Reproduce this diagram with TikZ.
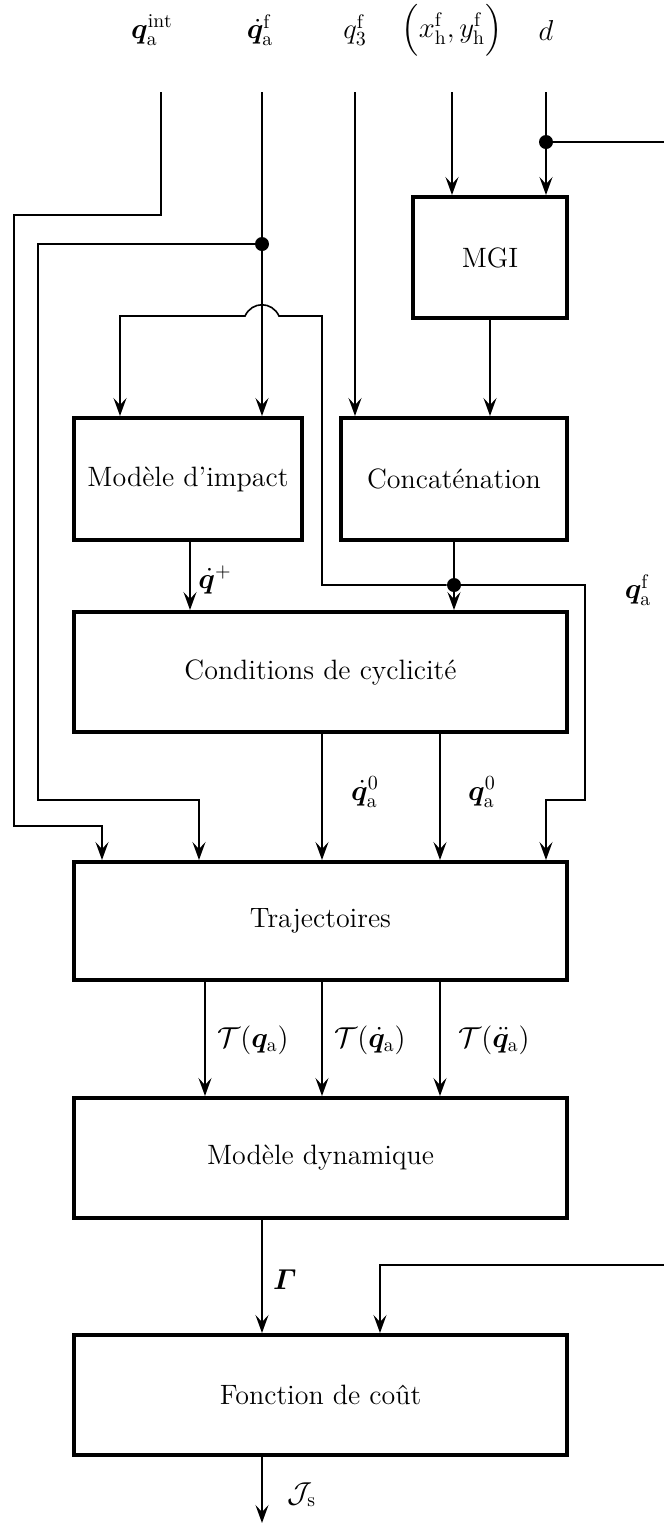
\documentclass[tikz,border=0pt]{standalone}
\usepackage{amsmath}
\usepackage{bm}
\usepackage{fontspec}
\usetikzlibrary{arrows.meta}
\tikzset{
  every node/.style={font=\fontsize{14}{17}\selectfont},
  blk/.style={draw, line width=2pt, inner sep=0pt, align=center},
  conn/.style={line width=0.8pt},
  arr/.style={conn, -{Stealth[length=9pt, width=6.5pt, inset=3.5pt]}},
  junc/.style={circle, fill=black, inner sep=0pt, minimum size=7pt},
  lbl/.style={inner sep=0pt}
}
\begin{document}
\begin{tikzpicture}[x=0.5pt, y=-0.5pt]
\useasboundingbox (0,0) rectangle (664,1523);

% top labels
\node[lbl] (lA) at (152,30) {$\bm{q}_{\mathrm{a}}^{\mathrm{int}}$};
\node[lbl] (lB) at (260,30) {$\dot{\bm{q}}_{\mathrm{a}}^{\mathrm{f}}$};
\node[lbl] (lC) at (355,30) {$q_3^{\mathrm{f}}$};
\node[lbl] (lD) at (452,30) {$\Bigl(x_{\mathrm{h}}^{\mathrm{f}}, y_{\mathrm{h}}^{\mathrm{f}}\Bigr)$};
\node[lbl] (lE) at (546,30) {$d$};

% line starts
\coordinate (inA) at (161,92);
\coordinate (inB) at (262,92);
\coordinate (inC) at (355,92);
\coordinate (inD) at (452,92);
\coordinate (inE) at (546,92);

% boxes
\node[blk, minimum width=77pt, minimum height=60.5pt] (mgi) at (490,257.5) {MGI};
\node[blk, minimum width=114pt, minimum height=61pt] (impact) at (188,479) {Modèle d'impact};
\node[blk, minimum width=113pt, minimum height=61pt] (concat) at (454,479) {Concaténation};
\node[blk, minimum width=246.5pt, minimum height=60pt] (cond) at (320.5,672) {Conditions de cyclicité};
\node[blk, minimum width=246.5pt, minimum height=59pt] (traj) at (320.5,921) {Trajectoires};
\node[blk, minimum width=246.5pt, minimum height=60pt] (dyn) at (320.5,1158) {Modèle dynamique};
\node[blk, minimum width=246.5pt, minimum height=60pt] (cost) at (320.5,1395) {Fonction de coût};

% junctions
\node[junc] (jB) at (262,244) {};
\node[junc] (jE) at (546,142) {};
\node[junc] (jC) at (454,585) {};

% column helpers
\coordinate (x102) at (102,0);
\coordinate (x199) at (199,0);
\coordinate (x120) at (120,0);
\coordinate (x190) at (190,0);
\coordinate (x205) at (205,0);
\coordinate (x262) at (262,0);
\coordinate (x322) at (322,0);
\coordinate (x380) at (380,0);
\coordinate (x440) at (440,0);
\coordinate (x546) at (546,0);
\coordinate (outE) at (664,142);
\coordinate (inF) at (664,1265);
\coordinate (outJ) at (262,1523);

% q_a^int
\draw[arr] (inA) -- (161,215) -- (14,215) -- (14,826) -- (102,826) -- (traj.north -| x102);
% qdot_a^f
\draw[conn] (inB) -- (jB);
\draw[arr] (jB) -- (impact.north -| jB);
\draw[arr] (jB) -- (38,244) -- (38,800) -- (199,800) -- (traj.north -| x199);
% q3
\draw[arr] (inC) -- (concat.north -| inC);
% xh yh
\draw[arr] (inD) -- (mgi.north -| inD);
% d
\draw[conn] (inE) -- (jE);
\draw[arr] (jE) -- (mgi.north -| jE);
\draw[conn] (jE) -- (outE);
% MGI -> concat
\draw[arr] (mgi.south) -- (concat.north -| mgi.south);
% concat -> junction
\draw[conn] (concat.south) -- (jC);
\draw[arr] (jC) -- (cond.north -| jC);
\draw[arr] (jC) -- (585,585) -- (585,800) -- (546,800) -- (traj.north -| x546);
\draw[arr] (jC) -- (322,585) -- (322,316) -- (279,316)
  .. controls (272,301) and (252,301) .. (245,316) -- (120,316) -- (impact.north -| x120);
% impact -> cond
\draw[arr] (impact.south -| x190) -- (cond.north -| x190);
% cond -> traj
\draw[arr] (cond.south -| x322) -- (traj.north -| x322);
\draw[arr] (cond.south -| x440) -- (traj.north -| x440);
% traj -> dyn
\draw[arr] (traj.south -| x205) -- (dyn.north -| x205);
\draw[arr] (traj.south -| x322) -- (dyn.north -| x322);
\draw[arr] (traj.south -| x440) -- (dyn.north -| x440);
% dyn -> cost
\draw[arr] (dyn.south -| x262) -- (cost.north -| x262);
\draw[arr] (inF) -- (380,1265) -- (cost.north -| x380);
% cost out
\draw[arr] (cost.south -| x262) -- (outJ);

% labels
\node[lbl] (lqp) at (215,580) {$\dot{\bm{q}}^{+}$};
\node[lbl] (lqf) at (638,590) {$\bm{q}_{\mathrm{a}}^{\mathrm{f}}$};
\node[lbl] (lqd0) at (365,792) {$\dot{\bm{q}}_{\mathrm{a}}^{0}$};
\node[lbl] (lq0) at (482,792) {$\bm{q}_{\mathrm{a}}^{0}$};
\node[lbl] (lT1) at (253,1040) {$\mathcal{T}(\bm{q}_{\mathrm{a}})$};
\node[lbl] (lT2) at (370,1040) {$\mathcal{T}(\dot{\bm{q}}_{\mathrm{a}})$};
\node[lbl] (lT3) at (494,1040) {$\mathcal{T}(\ddot{\bm{q}}_{\mathrm{a}})$};
\node[lbl] (lG) at (285,1280) {$\bm{\varGamma}$};
\node[lbl] (lJ) at (302,1495) {$\mathcal{J}_{\mathrm{s}}$};
\end{tikzpicture}
\end{document}
